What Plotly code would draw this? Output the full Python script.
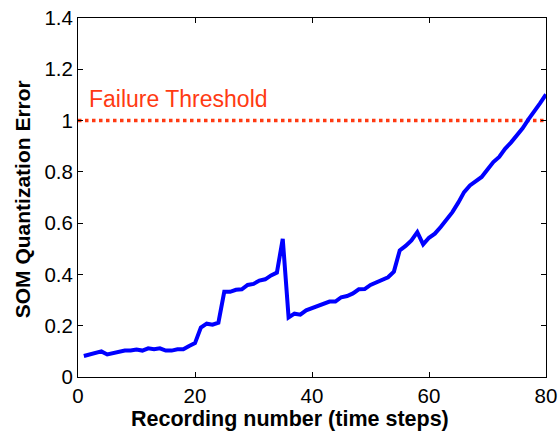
import plotly.graph_objects as go

recording = list(range(1, 81))
som_error = [
    0.082, 0.088, 0.094, 0.100, 0.088, 0.092, 0.098, 0.103, 0.103, 0.107,
    0.103, 0.112, 0.108, 0.112, 0.103, 0.103, 0.108, 0.108, 0.121, 0.132,
    0.193, 0.208, 0.204, 0.212, 0.332, 0.332, 0.340, 0.342, 0.359, 0.363,
    0.376, 0.381, 0.396, 0.407, 0.539, 0.232, 0.247, 0.243, 0.260, 0.268,
    0.279, 0.283, 0.294, 0.294, 0.311, 0.316, 0.326, 0.342, 0.343, 0.359,
    0.370, 0.379, 0.389, 0.411, 0.494, 0.511, 0.533, 0.565, 0.517, 0.543,
    0.559, 0.585, 0.615, 0.643, 0.680, 0.721, 0.747, 0.764, 0.780, 0.809,
    0.838, 0.858, 0.890, 0.914, 0.942, 0.970, 1.005, 1.034, 1.068, 1.102,
]
threshold = 1.0
threshold_x = [0, 80]
threshold_label = "Failure Threshold"
x_title = "Recording number (time steps)"
y_title = "SOM Quantization Error"

x_ticks = [0, 20, 40, 60, 80]
y_ticks = [0, 0.2, 0.4, 0.6, 0.8, 1.0, 1.2, 1.4]
y_tick_text = ["0", "0.2", "0.4", "0.6", "0.8", "1", "1.2", "1.4"]

FONT = "Arial, 'Liberation Sans', Helvetica, sans-serif"

fig = go.Figure()
fig.add_trace(go.Scatter(
    x=threshold_x, y=[threshold, threshold], mode="lines",
    line=dict(color="#FF3A12", width=3.5, dash="dot"),
    hoverinfo="skip", showlegend=False,
))
fig.add_trace(go.Scatter(
    x=recording, y=som_error, mode="lines",
    line=dict(color="#0000FF", width=4),
    showlegend=False,
))
fig.add_annotation(
    x=1.5, y=1.085, xref="x", yref="y", text=threshold_label,
    showarrow=False, xanchor="left", yanchor="middle",
    font=dict(family=FONT, size=23, color="#FF3A12"),
)
fig.add_annotation(
    x=0.453, y=-0.118, xref="paper", yref="paper", text="<b>" + x_title + "</b>",
    showarrow=False, xanchor="center", yanchor="middle",
    font=dict(family=FONT, size=21.5, color="black"),
)
fig.add_annotation(
    x=-0.1197, y=0.495, xref="paper", yref="paper", text="<b>" + y_title + "</b>",
    showarrow=False, xanchor="center", yanchor="middle", textangle=-90,
    font=dict(family=FONT, size=21, color="black"),
)

axis_common = dict(
    showgrid=False, zeroline=False, showline=True, linecolor="black",
    linewidth=1, mirror="allticks", ticks="inside", ticklen=5,
    tickcolor="black", tickfont=dict(family=FONT, size=20.5, color="black"),
    automargin=False,
)
fig.update_xaxes(range=[0, 80], tickvals=x_ticks, **axis_common)
fig.update_yaxes(range=[0, 1.4], tickvals=y_ticks, ticktext=y_tick_text, **axis_common)
fig.update_layout(
    width=560, height=436,
    margin=dict(l=78, r=14, t=18, b=59),
    paper_bgcolor="white", plot_bgcolor="white",
    font=dict(family=FONT),
)
fig.write_html("out.html")
